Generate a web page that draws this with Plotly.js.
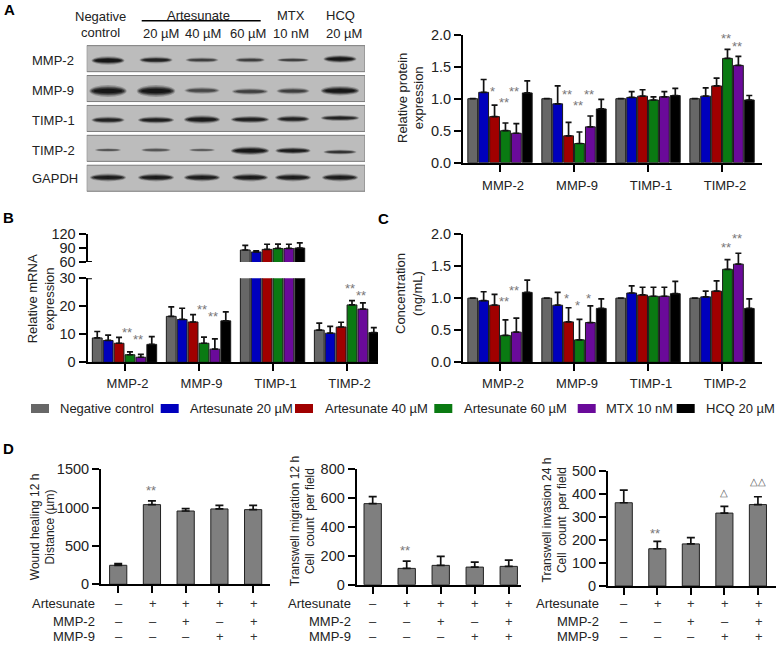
<!DOCTYPE html>
<html><head><meta charset="utf-8">
<script src="https://cdn.plot.ly/plotly-3.0.1.min.js"></script>
<style>html,body{margin:0;padding:0;background:#fff}#c{width:778px;height:646px}</style>
</head><body><div id="c"></div>
<script>
var W=778,H=646,FONT='"Liberation Sans", Arial, sans-serif';
var groups=['MMP-2','MMP-9','TIMP-1','TIMP-2'];
var seriesNames=['Negative control','Artesunate 20 µM','Artesunate 40 µM','Artesunate 60 µM','MTX 10 nM','HCQ 20 µM'];
var seriesColors=['#676767','#0000bd','#a00000','#0a7a12','#6a0a9a','#000000'];

// Panel A
var aValues=[[1,1,1,1],[1.10,.92,1.02,1.04],[.72,.42,1.04,1.20],[.50,.30,.98,1.63],[.46,.56,1.03,1.52],[1.09,.84,1.05,.98]];
var aErrors=[[null,null,null,null],[.20,.28,.09,.13],[.18,.21,.10,.12],[.12,.18,.05,.14],[.15,.17,.08,.14],[.19,.15,.11,.07]];
// Panel B
var bValues=[[8.7,16.4,85.7,11.5],[7.8,15.3,81.5,10.4],[6.8,14.4,87,12.6],[2.7,6.8,89,20.5],[1.8,4.7,89,19],[6.4,14.8,90,10.6]];
var bErrors=[[2.3,3.4,10,2.5],[1.9,4,2.5,2.4],[2.1,2.6,11,1.7],[1.0,2.2,9.5,1.5],[1.0,3.7,9,2.2],[2.8,3.2,11,1.8]];
// Panel C
var cValues=[[1,1,1,1],[.96,.89,1.08,1.02],[.89,.63,1.05,1.11],[.42,.35,1.03,1.45],[.47,.62,1.03,1.53],[1.09,.84,1.07,.84]];
var cErrors=[[null,null,null,null],[.14,.20,.11,.09],[.17,.22,.12,.16],[.24,.32,.14,.15],[.22,.26,.14,.17],[.19,.15,.19,.15]];
// Panel D
var treatmentRows=['Artesunate','MMP-2','MMP-9'];
var artesunateSigns=['–','+','+','+','+'], mmp2Signs=['–','–','+','–','+'], mmp9Signs=['–','–','–','+','+'];
var woundValues=[248,1039,956,983,974], woundErrors=[22,48,31,47,56];
var migrationValues=[562,113,134,122,127], migrationErrors=[48,51,62,35,44];
var invasionValues=[362,162,183,317,354], invasionErrors=[55,32,27,29,34];
// Significance marks
var aStarX=[-.099,.058,.189,.905,1.05,1.199,3.054,3.203], aStarY=[1.167,.995,1.167,1.105,.933,1.105,1.995,1.86], aStarT=['*','**','**','**','**','**','**','**'];
var bStarX=[.04,.185,1.05,1.195,3.05,3.2], bStarY=[11.64,9.29,19.86,17.36,27.5,25.1], bStarT=['**','**','**','**','**','**'];
var cStarX=[.058,.189,.892,1.041,1.189,3.054,3.203], cStarY=[.998,1.163,1.034,.929,1.034,1.844,1.98], cStarT=['**','**','*','*','*','**','**'];
// Western blot
var blotRows=['MMP-2','MMP-9','TIMP-1','TIMP-2','GAPDH'];
var blotLanes=[108,156,202,250,293,340];
var bandWidth=[[30,30,30,27,29,30],[34,35,32,33,30,35],[30,33,33,35,30,35],[24,27,24,35,32,30],[33,33,33,33,33,33]];
var bandThick=[[5,4,3.2,3.2,2.6,4.5],[7,7,4.2,4,4.2,5.6],[4.2,4.2,5,4.2,4.2,3.6],[2.2,2.6,2.2,5,4,3],[4.6,4.6,4.6,4.6,4.6,4.6]];
var bandDark=[[1,.85,.6,.6,.65,1],[1,1,.55,.6,.6,1],[.85,.9,.95,.9,.85,.85],[.5,.5,.45,1,.95,.7],[.95,.95,.95,.95,.95,.95]];
var bandY=[[60.5,60,60,60,60,59],[91,91,90.5,91.5,91,90.7],[120,120,119.5,119.5,119,118],[150,150,150,150.7,150.7,152],[177.5,177.5,177.5,177.5,177.5,177.5]];

function px(x){return x/W} function py(y){return 1-y/H}
var layout={width:W,height:H,margin:{l:0,r:0,t:0,b:0},paper_bgcolor:'#fff',plot_bgcolor:'rgba(0,0,0,0)',
 font:{family:FONT,color:'#222',size:13},showlegend:false,barmode:'group',bargap:.116,bargroupgap:.1,
 annotations:[],shapes:[]};
var data=[];

function xAxis(id,yid,x0,x1,r,vals,txt,opt){
 layout['xaxis'+id]=Object.assign({domain:[px(x0),px(x1)],range:r,anchor:'y'+yid,tickmode:'array',tickvals:vals,ticktext:txt,
  showline:true,linewidth:2,linecolor:'#000',ticks:'outside',ticklen:7,tickwidth:2,tickcolor:'#000',showgrid:false,zeroline:false,
  tickfont:{size:13,color:'#222'},fixedrange:true},opt||{});
}
function yAxis(id,xid,y0,y1,r,vals,opt){
 layout['yaxis'+id]=Object.assign({domain:[py(y1),py(y0)],range:r,anchor:'x'+xid,tickmode:'array',tickvals:vals,ticktext:vals.map(String),
  showline:true,linewidth:2,linecolor:'#000',ticks:'outside',ticklen:7,tickwidth:2,tickcolor:'#000',showgrid:false,zeroline:false,
  tickfont:{size:14.5,color:'#222'},fixedrange:true},opt||{});
}
function addGrouped(vals,errs,xid,yid){
 vals.forEach(function(v,i){
  data.push({type:'bar',name:seriesNames[i],x:[0,1,2,3],y:v,xaxis:'x'+xid,yaxis:'y'+yid,
   marker:{color:seriesColors[i],line:{color:'#1a1a1a',width:1}},
   error_y:{type:'data',symmetric:false,array:errs[i],arrayminus:[0,0,0,0],visible:true,color:'#111',thickness:1.7,width:3},hoverinfo:'skip'});
 });
}
function addSingle(name,vals,errs,xid,yid){
 data.push({type:'bar',name:name,x:[0,1,2,3,4],y:vals,xaxis:'x'+xid,yaxis:'y'+yid,width:.51,
  marker:{color:'#7f7f7f',line:{color:'#222',width:1}},
  error_y:{type:'data',symmetric:false,array:errs,arrayminus:[0,0,0,0,0],visible:true,color:'#111',thickness:1.7,width:4},hoverinfo:'skip'});
}
function note(text,x,y,o){layout.annotations.push(Object.assign({text:text,x:px(x),y:py(y),xref:'paper',yref:'paper',showarrow:false,
  xanchor:'center',yanchor:'middle',font:{size:13,color:'#222'}},o||{}));}
function stars(xs,ys,ts,xid,yid){xs.forEach(function(x,i){layout.annotations.push({text:ts[i],x:x,y:ys[i],xref:'x'+xid,yref:'y'+yid,showarrow:false,
  xanchor:'center',yanchor:'middle',yshift:-3,font:{size:13,color:'#777'}});});}
function treatmentTable(xid,labelX){
 var rowY=[603.5,621,636.5];
 [artesunateSigns,mmp2Signs,mmp9Signs].forEach(function(row,r){
  note(treatmentRows[r],labelX,rowY[r],{xanchor:'right',font:{size:13,color:'#222'},borderpad:0,borderwidth:0});
  row.forEach(function(s,c){layout.annotations.push({text:s,x:c,y:py(rowY[r]),xref:'x'+xid,yref:'paper',showarrow:false,
    xanchor:'center',yanchor:'middle',xshift:.6,borderpad:0,borderwidth:0,font:{size:13,color:'#333'}});});
 });
}

// ---- A
var lblA={ticklabelshift:3,ticklabelstandoff:3}, lblBC={ticklabelshift:3,ticklabelstandoff:1};
var none={showticklabels:false};
xAxis('','',463,762,[-.5,3.54],[0,1,2,3],groups,lblA);
yAxis('','',34.7,162.7,[0,2],[0,.5,1,1.5,2],{ticktext:['0.0','0.5','1.0','1.5','2.0']});
addGrouped(aValues,aErrors,'','');
stars(aStarX,aStarY,aStarT,'','');
note('Relative protein<br>expression',410.3,97.7,{textangle:-90});
// ---- B
xAxis(2,2,87.5,378,[-.5,3.425],[0,1,2,3],groups,lblBC);
yAxis(2,2,278.3,362.3,[0,30],[0,10,20,30]);
yAxis(3,2,234,262,[60,120],[60,90,120]);
addGrouped(bValues,bErrors,2,2);
addGrouped(bValues,bErrors,2,3);
stars(bStarX,bStarY,bStarT,2,2);
note('Relative mRNA<br>expression',41.3,299,{textangle:-90});
// ---- C
xAxis(3,4,463,762,[-.5,3.54],[0,1,2,3],groups,lblBC);
yAxis(4,3,234,362.3,[0,2],[0,.5,1,1.5,2],{ticktext:['0.0','0.5','1.0','1.5','2.0']});
addGrouped(cValues,cErrors,3,4);
stars(cStarX,cStarY,cStarT,3,4);
note('Concentration<br>(ng/mL)',409.7,293.3,{textangle:-90});
// ---- D
xAxis(4,5,101,270,[-.51,4.5],[0,1,2,3,4],artesunateSigns,none);
yAxis(5,4,469.3,584.3,[0,1500],[0,500,1000,1500]);
addSingle('Wound healing 12 h',woundValues,woundErrors,4,5);
stars([.96],[1260],['**'],4,5);
note('Wound healing 12 h<br>Distance (µm)',42.5,526.7,{textangle:-90,font:{size:12,color:'#222'}});
treatmentTable(4,94.5);

xAxis(5,6,356.7,521,[-.47,4.36],[0,1,2,3,4],artesunateSigns,none);
yAxis(6,5,469.3,584.7,[0,800],[0,200,400,600,800]);
addSingle('Transwell migration 12 h',migrationValues,migrationErrors,5,6);
stars([.96],[260],['**'],5,6);
note('Transwell migration 12 h<br>Cell  count  per field',302.5,521.7,{textangle:-90,font:{size:12,color:'#222'}});
treatmentTable(5,351);

xAxis(6,7,608,775.7,[-.47,4.53],[0,1,2,3,4],artesunateSigns,none);
yAxis(7,6,471,586,[0,500],[0,100,200,300,400,500]);
addSingle('Transwell invasion 24 h',invasionValues,invasionErrors,6,7);
stars([.94],[242],['**'],6,7);
[[3,407,'△'],[3.99,455,'△△']].forEach(function(t){layout.annotations.push({text:t[2],x:t[0],y:t[1],xref:'x6',yref:'y7',showarrow:false,font:{size:10,color:'#555'},xanchor:'center',yanchor:'middle'});});
note('Transwell invasion 24 h<br>Cell  count  per field',554.5,520,{textangle:-90,font:{size:12,color:'#222'}});
treatmentTable(6,599);

// break stubs on the B axis
[['y2',30],['y3',60]].forEach(function(s){layout.shapes.push({type:'line',xref:'x2',yref:s[0],x0:-.5,x1:-.44,y0:s[1],y1:s[1],line:{color:'#000',width:2}});});

// ---- blot (horizontal bars for the membrane strips on hidden axes)
layout.xaxis7={domain:[px(86.7),px(365)],range:[86.7,365],visible:false,anchor:'y8',fixedrange:true};
layout.yaxis8={domain:[py(193.2),py(43.7)],range:[4.5,-.5],visible:false,anchor:'x7',fixedrange:true};
data.push({type:'bar',orientation:'h',x:blotRows.map(function(){return 278.3}),base:86.7,y:[0,1,2,3,4],width:.87,xaxis:'x7',yaxis:'y8',
  marker:{color:'#bcbcbc',line:{color:'#7c7c7c',width:1}},hoverinfo:'skip',name:'Western blot'});
function rowY(p){return (p-43.7)/29.9-.5}
var levels=[[1.1,1.7,.2],[1.04,1.3,.3],[.97,1.0,.45],[.86,.65,.6]];
blotRows.forEach(function(r,ri){
 blotLanes.forEach(function(l,li){
  levels.forEach(function(L){
   var hw=bandWidth[ri][li]/2*L[0], ht=bandThick[ri][li]/2*L[1];
   layout.shapes.push({type:'circle',xref:'x7',yref:'y8',layer:'above',x0:l-hw,x1:l+hw,
     y0:rowY(bandY[ri][li]-ht),y1:rowY(bandY[ri][li]+ht),fillcolor:'#000',opacity:L[2]*bandDark[ri][li],line:{width:0}});
  });
 });
 note(r,30,[61,91,121,150.5,178][ri],{xanchor:'left'});
});
[['Negative',100.7,16.7],['control',100.7,32.7],['Artesunate',199,15],['20 µM',160.7,33],['40 µM',203,33],['60 µM',248,33],
 ['MTX',290.7,16],['10 nM',291,33],['HCQ',340,16],['20 µM',344,33]].forEach(function(t){note(t[0],t[1],t[2]);});
layout.shapes.push({type:'line',xref:'paper',yref:'paper',x0:px(141.7),x1:px(260.7),y0:py(20.7),y1:py(20.7),line:{color:'#000',width:1.6}});

// ---- legend
var legSw=[31,160.7,295,434.3,577.7,676.7], legTx=[58.3,187.7,323.3,462,604.3,704];
seriesNames.forEach(function(n,i){
 layout.shapes.push({type:'rect',xref:'paper',yref:'paper',x0:px(legSw[i]),x1:px(legSw[i]+18),y0:py(413),y1:py(404),fillcolor:seriesColors[i],line:{width:0}});
 note(n,legTx[i],408.7,{xanchor:'left',font:{size:13,color:'#222'}});
});
// ---- panel letters
[['A',2,9],['B',1,217],['C',376,218],['D',1,448]].forEach(function(t){note('<b>'+t[0]+'</b>',t[1],t[2],{xanchor:'left',font:{size:15,color:'#000'}});});

Plotly.newPlot('c',data,layout,{displayModeBar:false,staticPlot:true});
</script></body></html>
